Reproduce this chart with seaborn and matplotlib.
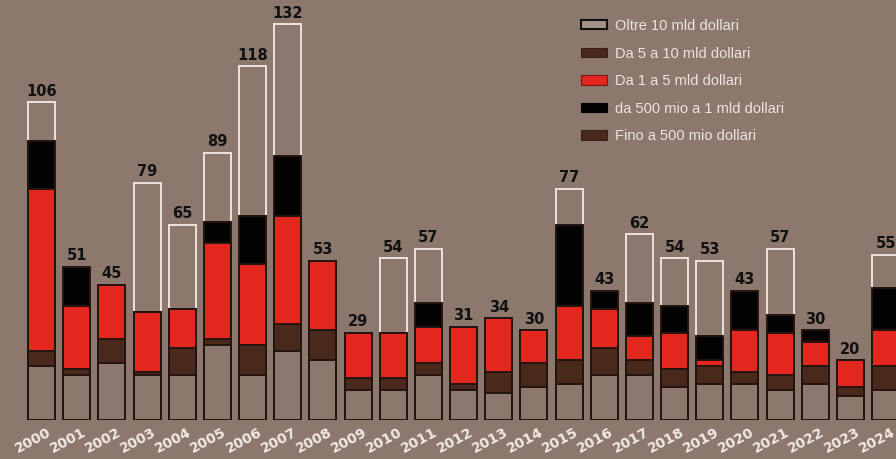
import numpy as np
import pandas as pd
import matplotlib
matplotlib.use("Agg")
import matplotlib.pyplot as plt
import matplotlib.transforms as mtransforms
from matplotlib.patches import Patch
import seaborn as sns

# ---- data (number of deals per size class) ----
years = [str(y) for y in range(2000, 2025)]
fino_500_mio = [18, 15, 19, 15, 15, 25, 15, 23, 20, 10, 10, 15, 10, 9, 11, 12, 15, 15, 11, 12, 12, 10, 12, 8, 10]
da_5_a_10_mld = [5, 2, 8, 1, 9, 2, 10, 9, 10, 4, 4, 4, 2, 7, 8, 8, 9, 5, 6, 6, 4, 5, 6, 3, 8]
da_1_a_5_mld = [54, 21, 18, 20, 13, 32, 27, 36, 23, 15, 15, 12, 19, 18, 11, 18, 13, 8, 12, 2, 14, 14, 8, 9, 12]
da_500_mio_a_1_mld = [16, 13, 0, 0, 0, 7, 16, 20, 0, 0, 0, 8, 0, 0, 0, 27, 6, 11, 9, 8, 13, 6, 4, 0, 14]
oltre_10_mld = [13, 0, 0, 43, 28, 23, 50, 44, 0, 0, 25, 18, 0, 0, 0, 12, 0, 23, 16, 25, 0, 22, 0, 0, 11]
totals = [106, 51, 45, 79, 65, 89, 118, 132, 53, 29, 54, 57, 31, 34, 30, 77, 43, 62, 54, 53, 43, 57, 30, 20, 55]

labels_legend = ["Oltre 10 mld dollari", "Da 5 a 10 mld dollari", "Da 1 a 5 mld dollari",
                 "da 500 mio a 1 mld dollari", "Fino a 500 mio dollari"]

BG = "#8c786c"
DARK_EDGE = "#241410"
LIGHT_EDGE = "#eee3dc"
BROWN = "#4a291d"
RED = "#e3261e"
BLACK = "#040303"

df = pd.DataFrame({
    "year": years,
    "fino": fino_500_mio,
    "d5_10": da_5_a_10_mld,
    "d1_5": da_1_a_5_mld,
    "d500_1": da_500_mio_a_1_mld,
    "oltre": oltre_10_mld,
})
df["c1"] = df["fino"]
df["c2"] = df["c1"] + df["d5_10"]
df["c3"] = df["c2"] + df["d1_5"]
df["c4"] = df["c3"] + df["d500_1"]
df["c5"] = df["c4"] + df["oltre"]

W, H, DPI = 896, 459, 100
fig = plt.figure(figsize=(W / DPI, H / DPI), dpi=DPI, facecolor=BG)
base_px = 39.5
ax = fig.add_axes([0, base_px / H, 1, (H - base_px) / H])
ax.set_facecolor(BG)

BW = 0.77
layers = [
    ("c5", BG, LIGHT_EDGE),
    ("c4", BLACK, DARK_EDGE),
    ("c3", RED, DARK_EDGE),
    ("c2", BROWN, DARK_EDGE),
    ("c1", BG, DARK_EDGE),
]
for col, fc, ec in layers:
    sns.barplot(data=df, x="year", y=col, color=fc, edgecolor=ec, linewidth=1.4,
                width=BW, saturation=1, errorbar=None, ax=ax, order=years)

px_per_unit_x = 35.17
left_px = 28
x0 = -BW / 2 - left_px / px_per_unit_x
x1 = x0 + W / px_per_unit_x
ax.set_xlim(x0, x1)
ax.set_ylim(0, (H - base_px) / 3.0)

for s in ax.spines.values():
    s.set_visible(False)
ax.set_yticks([])
ax.set_xlabel("")
ax.set_ylabel("")
ax.tick_params(axis="x", length=0, pad=4)
ax.set_xticks(range(len(years)))
ax.set_xticklabels(years, rotation=28, ha="right", va="top", rotation_mode="anchor",
                   fontsize=10, fontweight="bold", color="#f1e9e4")
offset = mtransforms.ScaledTranslation(5 / DPI, 0, fig.dpi_scale_trans)
for lab in ax.get_xticklabels():
    lab.set_transform(lab.get_transform() + offset)

for i, t in enumerate(totals):
    ax.annotate(str(t), (i, t), xytext=(0, 6), textcoords="offset pixels",
                ha="center", va="baseline", fontsize=10.5, fontweight="heavy", color="#111111")

handles = [
    Patch(facecolor="#a39288", edgecolor="#111111", linewidth=1.5),
    Patch(facecolor=BROWN, edgecolor="#3a1f16", linewidth=0.8),
    Patch(facecolor=RED, edgecolor="#7a1a14", linewidth=0.8),
    Patch(facecolor=BLACK, edgecolor=BLACK, linewidth=0.8),
    Patch(facecolor=BROWN, edgecolor="#3a1f16", linewidth=0.8),
]
leg = fig.legend(handles, labels_legend, loc="upper left",
                 bbox_to_anchor=(581 / W, 1 - 19 / H), frameon=False,
                 prop={"family": "Liberation Sans", "size": 10.5},
                 handlelength=1.75, handleheight=0.6, handletextpad=0.6,
                 labelspacing=0.93, borderpad=0, borderaxespad=0)
for txt in leg.get_texts():
    txt.set_color("#efe4de")

fig.savefig("out.png", dpi=DPI, facecolor=BG)
